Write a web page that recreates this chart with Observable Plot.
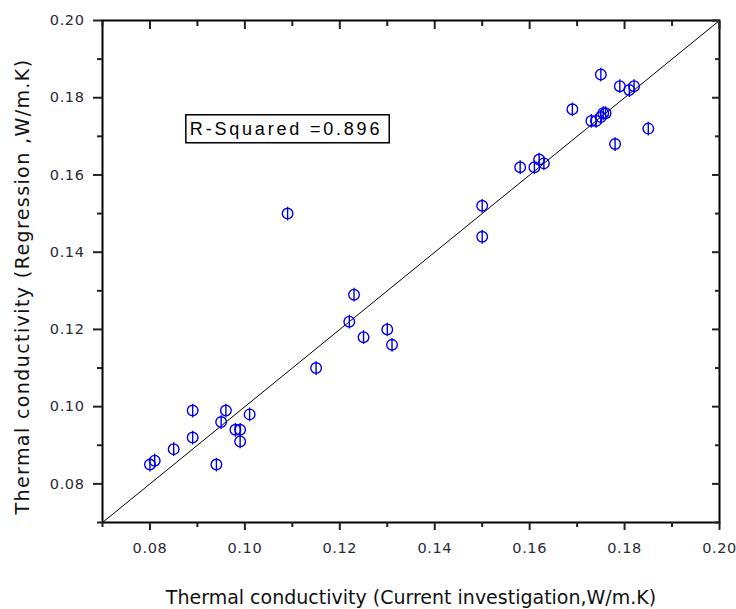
<!DOCTYPE html>
<html><head><meta charset="utf-8">
<script src="https://cdn.jsdelivr.net/npm/d3@7"></script>
<script src="https://cdn.jsdelivr.net/npm/@observablehq/plot@0.6"></script>
<style>
body{margin:0;background:#fff}
</style></head><body><div id="chart"></div>
<script>
// Data
const currentInvestigation = [0.080,0.081,0.085,0.089,0.089,0.094,0.095,0.096,0.098,0.099,0.099,0.101,
  0.109,0.115,0.122,0.123,0.125,0.130,0.131,0.150,0.150,0.158,0.161,0.162,0.163,0.169,
  0.173,0.174,0.175,0.1755,0.176,0.175,0.178,0.179,0.181,0.182,0.185];
const regression = [0.085,0.086,0.089,0.099,0.092,0.085,0.096,0.099,0.094,0.094,0.091,0.098,
  0.150,0.110,0.122,0.129,0.118,0.120,0.116,0.152,0.144,0.162,0.162,0.164,0.163,0.177,
  0.174,0.174,0.175,0.176,0.176,0.186,0.168,0.183,0.182,0.183,0.172];
const axisDomain = [0.07, 0.20];
const majorTicks = [0.08,0.10,0.12,0.14,0.16,0.18,0.20];
const minorTicks = [0.07,0.09,0.11,0.13,0.15,0.17,0.19];
const xTitle = "Thermal conductivity (Current investigation,W/m.K)";
const yTitle = "Thermal conductivity (Regression ,W/m.K)";
const rSquaredLabel = "R-Squared =0.896";
const labelAt = {x: 0.0884, y: 0.1719};

const points = currentInvestigation.map((x, i) => ({x, y: regression[i]}));
const phi = {draw(ctx, size) {
  const r = Math.sqrt(size / Math.PI);
  ctx.moveTo(r, 0); ctx.arc(0, 0, r, 0, 2 * Math.PI);
  ctx.moveTo(0, -r * 1.3); ctx.lineTo(0, r * 1.3);
}};
const blank = () => "";
const fmt = d3.format(".2f");

const chart = Plot.plot({
  width: 736, height: 609,
  marginLeft: 102, marginRight: 17, marginTop: 20, marginBottom: 87,
  x: {domain: axisDomain},
  y: {domain: axisDomain},
  style: {fontFamily: "DejaVu Sans", fontSize: "14px", color: "#222", background: "white"},
  marks: [
    Plot.line(axisDomain.map(v => [v, v]), {stroke: "black", strokeWidth: 1}),
    Plot.dot(points, {x: "x", y: "y", r: 5.3, symbol: phi, stroke: "#0000ee", strokeWidth: 1.4, fill: "none"}),
    Plot.frame({stroke: "black", strokeWidth: 2}),
    Plot.axisX({ticks: majorTicks, tickSize: 8, tickPadding: 12, tickFormat: fmt, label: null, strokeWidth: 2, fontSize: 14.5, fill: "#2a2a3a"}),
    Plot.axisX({ticks: minorTicks, tickSize: 5, tickFormat: blank, label: null, strokeWidth: 2}),
    Plot.axisX({anchor: "top", ticks: majorTicks, tickSize: -8, tickFormat: blank, label: null, strokeWidth: 2}),
    Plot.axisX({anchor: "top", ticks: minorTicks, tickSize: -5, tickFormat: blank, label: null, strokeWidth: 2}),
    Plot.axisY({ticks: majorTicks, tickSize: 9, tickPadding: 9, tickFormat: fmt, label: null, strokeWidth: 2, fontSize: 14.5, fill: "#2a2a3a"}),
    Plot.axisY({ticks: minorTicks, tickSize: 5, tickFormat: blank, label: null, strokeWidth: 2}),
    Plot.axisY({anchor: "right", ticks: majorTicks, tickSize: -8, tickFormat: blank, label: null, strokeWidth: 2}),
    Plot.axisY({anchor: "right", ticks: minorTicks, tickSize: -5, tickFormat: blank, label: null, strokeWidth: 2}),
    Plot.text([rSquaredLabel], {x: labelAt.x, y: labelAt.y, text: d => d, textAnchor: "start",
      fontFamily: "Liberation Sans", fontSize: 18, fill: "black"}),
    Plot.text([xTitle], {frameAnchor: "bottom", dy: 75, text: d => d, lineAnchor: "middle", textAnchor: "middle",
      fontSize: 19, fill: "#111"}),
    Plot.text([yTitle], {frameAnchor: "left", dx: -80, dy: 15, rotate: -90, text: d => d, lineAnchor: "middle", textAnchor: "middle",
      fontSize: 19, fill: "#111"})
  ]
});
document.getElementById("chart").appendChild(chart);

const svg = d3.select(chart);
svg.selectAll("text").filter(function() { return this.textContent === yTitle; })
  .attr("letter-spacing", "1.4px");
svg.selectAll("text").filter(function() { return /^0\.\d\d$/.test(this.textContent); })
  .attr("letter-spacing", "0.6px");
svg.selectAll("text").filter(function() { return this.textContent === rSquaredLabel; })
  .attr("letter-spacing", "2.8px")
  .each(function() {
    const bb = this.getBBox();
    d3.select(this.parentNode).insert("rect", () => this)
      .attr("transform", this.getAttribute("transform"))
      .attr("x", bb.x - 4).attr("y", bb.y - 4)
      .attr("width", bb.width + 11).attr("height", bb.height + 8)
      .attr("fill", "white").attr("stroke", "black").attr("stroke-width", 1.5);
  });
</script></body></html>
